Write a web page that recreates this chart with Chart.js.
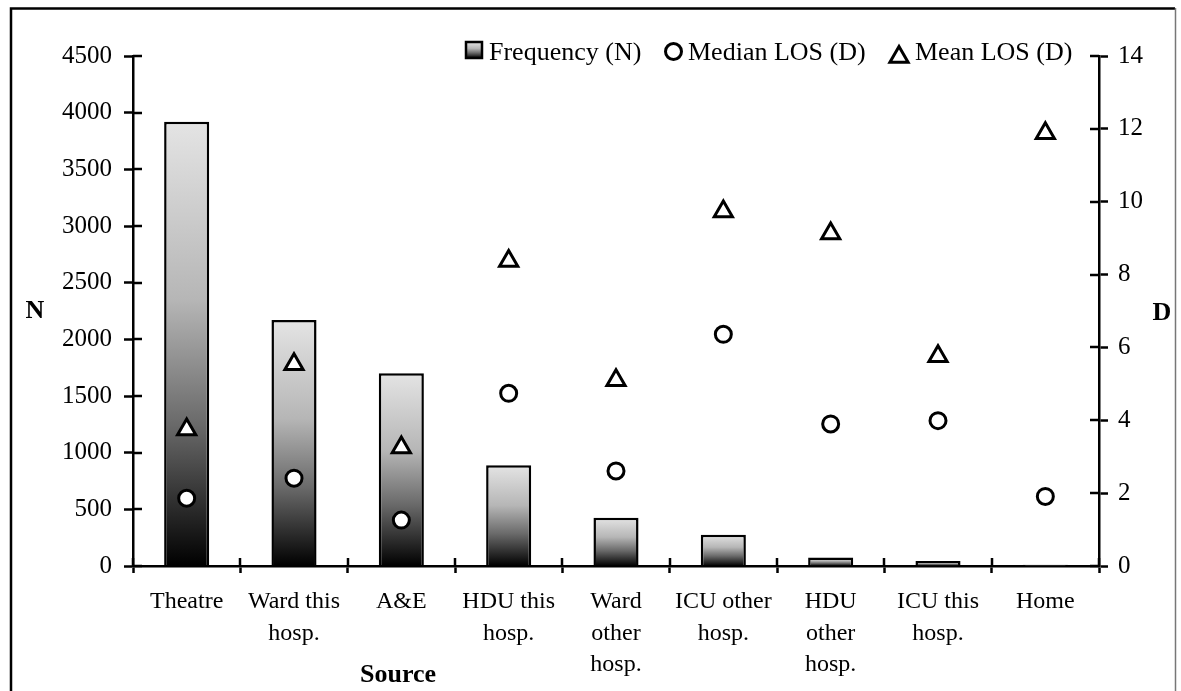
<!DOCTYPE html>
<html>
<head>
<meta charset="utf-8">
<title>Source of admission – frequency and length of stay</title>
<script src="https://cdn.jsdelivr.net/npm/chart.js@4.4.1/dist/chart.umd.min.js"></script>
<style>
  html, body { margin: 0; padding: 0; background: #fff; overflow: hidden; }
  #wrap { width: 1181px; height: 691px; }
</style>
</head>
<body>
<div id="wrap"><canvas id="losChart" width="1181" height="691"></canvas></div>
<script>
// Admission sources and their figures
const sources = [
    ['Theatre'], ['Ward this', 'hosp.'], ['A&E'], ['HDU this', 'hosp.'],
    ['Ward', 'other', 'hosp.'], ['ICU other', 'hosp.'], ['HDU', 'other', 'hosp.'],
    ['ICU this', 'hosp.'], ['Home']
];
const frequency = [3920, 2170, 1700, 890, 425, 275, 75, 45, 12];
const medianLos = [1.86, 2.41, 1.26, 4.74, 2.61, 6.36, 3.90, 3.99, 1.91];
const meanLos = [3.75, 5.54, 3.25, 8.37, 5.10, 9.73, 9.13, 5.76, 11.88];

// Axis ticks
const nTicks = [0, 500, 1000, 1500, 2000, 2500, 3000, 3500, 4000, 4500];
const dTicks = [0, 2, 4, 6, 8, 10, 12, 14];

const SERIF = "'Liberation Serif', 'Times New Roman', serif";

// light-to-black fill running down each bar
function barGradient(c, top, bottom) {
    const g = c.createLinearGradient(0, top, 0, bottom);
    g.addColorStop(0, '#e4e4e4');
    g.addColorStop(0.4, '#b6b6b6');
    g.addColorStop(0.68, '#6a6a6a');
    g.addColorStop(1, '#000000');
    return g;
}

function barFill(context) {
    const chart = context.chart;
    if (!chart.chartArea || context.type !== 'data') return '#999';
    const y = chart.scales.y;
    const top = y.getPixelForValue(context.raw);
    const bottom = y.getPixelForValue(0);
    if (bottom - top < 1) return '#8a8a8a';
    return barGradient(chart.ctx, top, bottom);
}

// frame, inward tick halves, axis titles and the legend
const decorations = {
    id: 'decorations',
    afterDraw(chart) {
        const { ctx, chartArea: a, scales } = chart;
        ctx.save();

        // outer frame
        ctx.strokeStyle = '#000';
        ctx.lineWidth = 2.5;
        ctx.beginPath();
        ctx.moveTo(11, 700);
        ctx.lineTo(11, 8.5);
        ctx.lineTo(1175, 8.5);
        ctx.stroke();
        ctx.strokeStyle = '#777';
        ctx.lineWidth = 1.5;
        ctx.beginPath();
        ctx.moveTo(1175.5, 8);
        ctx.lineTo(1175.5, 700);
        ctx.stroke();

        // ticks cross the axes
        ctx.strokeStyle = '#000';
        ctx.lineWidth = 2.5;
        ctx.beginPath();
        nTicks.forEach(v => {
            const py = Math.round(scales.y.getPixelForValue(v));
            ctx.moveTo(a.left, py);
            ctx.lineTo(a.left + 9, py);
        });
        dTicks.forEach(v => {
            const py = Math.round(scales.y1.getPixelForValue(v));
            ctx.moveTo(a.right - 9, py);
            ctx.lineTo(a.right, py);
        });
        const step = scales.x.getPixelForValue(1) - scales.x.getPixelForValue(0);
        for (let i = 0; i <= sources.length; i++) {
            const px = Math.round(scales.x.getPixelForValue(i) - step / 2);
            ctx.moveTo(px, a.bottom - 8);
            ctx.lineTo(px, a.bottom);
        }
        ctx.stroke();

        // axis titles
        ctx.fillStyle = '#000';
        ctx.font = 'bold 26px ' + SERIF;
        ctx.textAlign = 'center';
        ctx.textBaseline = 'alphabetic';
        ctx.fillText('N', 35, 318);
        ctx.fillText('D', 1162, 320);
        ctx.fillText('Source', 398, 682);

        // legend
        ctx.font = '26px ' + SERIF;
        ctx.textAlign = 'left';
        ctx.fillStyle = barGradient(ctx, 42, 58);
        ctx.fillRect(466, 42, 16, 16);
        ctx.lineWidth = 2.5;
        ctx.strokeRect(466, 42, 16, 16);
        ctx.fillStyle = '#000';
        ctx.fillText('Frequency (N)', 489, 60);

        ctx.fillStyle = '#fff';
        ctx.lineWidth = 3;
        Chart.helpers.drawPoint(ctx, { pointStyle: 'circle', radius: 8, borderWidth: 3, rotation: 0 }, 673.5, 51.5);
        ctx.fillStyle = '#000';
        ctx.fillText('Median LOS (D)', 688, 60);

        ctx.fillStyle = '#fff';
        Chart.helpers.drawPoint(ctx, { pointStyle: 'triangle', radius: 10.5, borderWidth: 3, rotation: 0 }, 899, 57);
        ctx.fillStyle = '#000';
        ctx.fillText('Mean LOS (D)', 915, 60);

        ctx.restore();
    }
};

const ctx = document.getElementById('losChart').getContext('2d');

const losChart = new Chart(ctx, {
    type: 'bar',
    data: {
        labels: sources,
        datasets: [
            {
                type: 'line',
                label: 'Mean LOS (D)',
                data: meanLos,
                yAxisID: 'y1',
                showLine: false,
                pointStyle: 'triangle',
                pointRadius: 10.5,
                pointBorderWidth: 3,
                pointBackgroundColor: '#fff',
                pointBorderColor: '#000',
                order: 0
            },
            {
                type: 'line',
                label: 'Median LOS (D)',
                data: medianLos,
                yAxisID: 'y1',
                showLine: false,
                pointStyle: 'circle',
                pointRadius: 8,
                pointBorderWidth: 3,
                pointBackgroundColor: '#fff',
                pointBorderColor: '#000',
                order: 1
            },
            {
                label: 'Frequency (N)',
                data: frequency,
                yAxisID: 'y',
                backgroundColor: barFill,
                borderColor: '#000',
                borderWidth: 2.5,
                barPercentage: 0.42,
                categoryPercentage: 1,
                order: 2
            }
        ]
    },
    options: {
        responsive: false,
        animation: false,
        events: [],
        layout: {
            padding: { left: 10, right: 0, top: 56, bottom: 0 }
        },
        plugins: {
            legend: { display: false },
            tooltip: { enabled: false }
        },
        scales: {
            x: {
                offset: true,
                afterFit: s => { s.height = 125; },
                grid: {
                    offset: true,
                    drawOnChartArea: false,
                    tickLength: 7,
                    tickWidth: 2.5,
                    tickColor: '#000'
                },
                border: { color: '#000', width: 2.5 },
                ticks: {
                    color: '#000',
                    font: { family: SERIF, size: 24, lineHeight: 1.32 },
                    padding: 13,
                    maxRotation: 0,
                    autoSkip: false
                }
            },
            y: {
                position: 'left',
                min: 0,
                max: 4500,
                afterFit: s => { s.width = 123; },
                afterBuildTicks: s => { s.ticks = nTicks.map(v => ({ value: v })); },
                grid: {
                    drawOnChartArea: false,
                    tickLength: 9,
                    tickWidth: 2.5,
                    tickColor: '#000'
                },
                border: { color: '#000', width: 2.5 },
                ticks: {
                    color: '#000',
                    font: { family: SERIF, size: 25 },
                    padding: 12,
                    callback: v => String(v)
                }
            },
            y1: {
                position: 'right',
                min: 0,
                max: 14,
                afterFit: s => { s.width = 82; },
                afterBuildTicks: s => { s.ticks = dTicks.map(v => ({ value: v })); },
                grid: {
                    drawOnChartArea: false,
                    tickLength: 9,
                    tickWidth: 2.5,
                    tickColor: '#000'
                },
                border: { color: '#000', width: 2.5 },
                ticks: {
                    color: '#000',
                    font: { family: SERIF, size: 25 },
                    padding: 10,
                    callback: v => String(v)
                }
            }
        }
    },
    plugins: [decorations]
});
</script>
</body>
</html>
